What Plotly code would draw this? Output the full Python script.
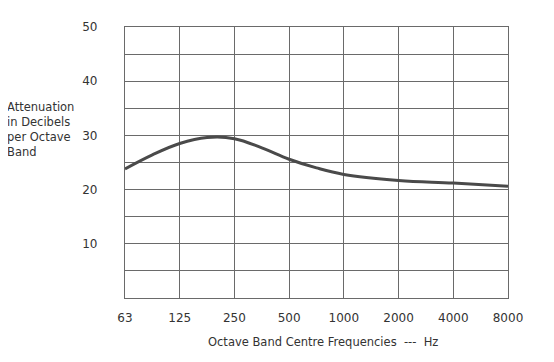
import plotly.graph_objects as go

# Octave band categories (tick labels)
freq_labels = ["63", "125", "250", "500", "1000", "2000", "4000", "8000"]
freq_pos = [0, 1, 2, 3, 4, 5, 6, 7]

# Curve (position in octaves from 63 Hz, attenuation dB)
curve_x = [0, 0.5, 1, 1.5, 2, 2.5, 3, 3.5, 4, 5, 6, 7]
curve_y = [23.8, 26.4, 28.5, 29.6, 29.4, 27.7, 25.6, 24.0, 22.8, 21.7, 21.2, 20.6]

# Y ticks
y_tickvals = [5, 10, 15, 20, 25, 30, 35, 40, 45, 50]
y_ticktext = ["", "10", "", "20", "", "30", "", "40", "", "50"]

font_family = "DejaVu Sans"
grid_color = "#6a6a6a"
text_color = "#333333"

fig = go.Figure()
fig.add_trace(go.Scatter(
    x=curve_x, y=curve_y, mode="lines",
    line=dict(color="#4a4a4a", width=3, shape="spline", smoothing=1.1),
    hoverinfo="skip", showlegend=False,
))

fig.update_layout(
    width=554, height=362,
    margin=dict(l=117, r=54, t=16, b=72),
    paper_bgcolor="white", plot_bgcolor="white",
    font=dict(family=font_family, size=12, color=text_color),
    showlegend=False,
    xaxis=dict(
        range=[0, 7], tickmode="array", tickvals=freq_pos, ticktext=freq_labels,
        showgrid=True, gridcolor=grid_color, gridwidth=1.2,
        showline=True, linecolor=grid_color, linewidth=1.2, mirror=True,
        zeroline=False, ticks="", ticklabelstandoff=8,
        tickfont=dict(size=12, color=text_color),
    ),
    yaxis=dict(
        range=[0, 50], tickmode="array", tickvals=y_tickvals, ticktext=y_ticktext,
        showgrid=True, gridcolor=grid_color, gridwidth=1.2,
        showline=True, linecolor=grid_color, linewidth=1.2, mirror=True,
        zeroline=False, ticks="", ticklabelstandoff=24,
        tickfont=dict(size=12, color=text_color),
    ),
    annotations=[
        dict(text="Attenuation<br>in Decibels<br>per Octave<br>Band",
             xref="paper", yref="paper", x=-0.313, y=0.62,
             xanchor="left", yanchor="middle", align="left", showarrow=False,
             font=dict(size=11.5, color=text_color, family=font_family)),
        dict(text="Octave Band Centre Frequencies  ---  Hz",
             xref="paper", yref="paper", x=0.517, y=-0.164,
             xanchor="center", yanchor="middle", showarrow=False,
             font=dict(size=11.5, color=text_color, family=font_family)),
    ],
)

fig.write_html("out.html")
